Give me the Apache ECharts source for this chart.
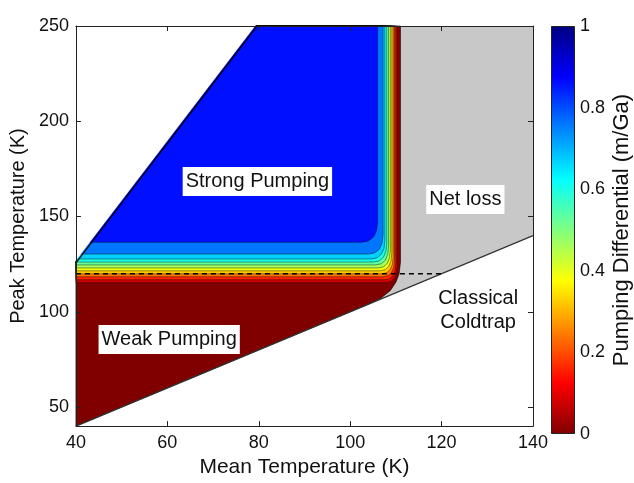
<!DOCTYPE html>
<html>
<head>
<meta charset="utf-8">
<script src="https://cdn.jsdelivr.net/npm/echarts@6/dist/echarts.min.js"></script>
<style>
  html, body { margin: 0; background: #fff; }
  #chart { width: 634px; height: 483px; }
</style>
</head>
<body>
<div id="chart"></div>
<script>
// axis ranges and ticks
const xMin = 40, xMax = 140, xStep = 20
const yMin = 40, yMax = 250
const yTicks = [50, 100, 150, 200, 250]
const cbarStep = 0.2

// domain limits: Tpeak = Tmean (below) and Tpeak = pi * Tmean (above)
const lowerBound = [[40, 40], [140, 140]]
const upperBound = [[40, 125.7], [79.6, 250]]
// classical coldtrap threshold
const coldtrap = [[40, 120], [120, 120]]

// zero contour, edge between pumping and net loss
const zeroContour = [[111.0, 250], [111.0, 126], [110.7, 120], [110.0, 115.5], [108.8, 111.2], [106.8, 107.3], [104.3, 104.3]]

// filled contour levels (m/Ga): horizontal limb (peak T), vertical limb (mean T), and bend size
const levels = [0.08, 0.16, 0.24, 0.32, 0.39, 0.46, 0.53, 0.6, 0.67, 0.76, 0.86]
const levelPeak = [115.3, 116.8, 118.4, 119.9, 121.5, 123.0, 124.6, 126.1, 127.7, 130.3, 136.5]
const levelMean = [110.3, 110.0, 109.7, 109.4, 109.1, 108.8, 108.4, 108.0, 107.6, 107.2, 106.0]
const bendMean = [2.4, 2.4, 2.5, 2.5, 2.6, 2.7, 2.8, 2.9, 3.0, 3.2, 3.6]
const bendPeak = [9.0, 9.0, 9.0, 9.2, 9.4, 9.6, 9.8, 10.0, 10.2, 10.5, 11.0]

// region labels
const noteText = ['Strong Pumping', 'Weak Pumping', 'Net loss', 'Classical\nColdtrap']
const noteMean = [79.7, 60.4, 125.2, 128.0]
const notePeak = [168.4, 85.4, 159.0, 100.9]
const noteBoxed = [true, true, true, false]

// flipped jet colour map, stops at 0, 1/8, ..., 1
const jetStops = ['#800000', '#ff0000', '#ff8000', '#ffff00', '#80ff80', '#00ffff', '#0080ff', '#0000ff', '#000080']

function hex2rgb(h) {
  return [1, 3, 5].map(i => parseInt(h.slice(i, i + 2), 16))
}
function cmap(v) {
  const t = Math.max(0, Math.min(1, v)) * 8
  const i = Math.min(7, Math.floor(t))
  const f = t - i
  const a = hex2rgb(jetStops[i]), b = hex2rgb(jetStops[i + 1])
  const c = a.map((x, k) => Math.round(x + (b[k] - x) * f))
  return 'rgb(' + c.join(',') + ')'
}

const font = '"Liberation Sans", Arial, Helvetica, sans-serif'
const axisColor = '#222'

const chart = echarts.init(document.getElementById('chart'), null, { renderer: 'canvas' })

const polyItem = (pts, fill, stroke) => ({
  type: 'polygon',
  shape: { points: pts },
  style: { fill: fill, stroke: stroke || null, lineWidth: stroke ? 0.8 : 0 }
})

const option = {
  animation: false,
  backgroundColor: '#fff',
  grid: [
    { left: 75, top: 26, width: 458, height: 408 },
    { left: 551, top: 26, width: 24, height: 408 }
  ],
  xAxis: [
    {
      type: 'value', gridIndex: 0, min: xMin, max: xMax, interval: xStep, z: 10,
      name: 'Mean Temperature (K)', nameLocation: 'middle', nameGap: 24,
      nameTextStyle: { fontFamily: font, fontSize: 21, color: '#111' },
      axisLine: { lineStyle: { color: axisColor } },
      axisTick: { inside: true, length: 5, lineStyle: { color: axisColor } },
      axisLabel: { fontFamily: font, fontSize: 18, color: '#111', margin: 8 },
      splitLine: { show: false }
    },
    {
      type: 'value', gridIndex: 0, position: 'top', min: xMin, max: xMax, interval: xStep, z: 10,
      axisLine: { lineStyle: { color: axisColor } },
      axisTick: { inside: true, length: 5, lineStyle: { color: axisColor } },
      axisLabel: { show: false },
      splitLine: { show: false }
    },
    { type: 'category', gridIndex: 1, data: [''], show: false }
  ],
  yAxis: [
    {
      type: 'value', gridIndex: 0, min: yMin, max: yMax, z: 10,
      name: 'Peak Temperature (K)', nameLocation: 'middle', nameRotate: 90, nameGap: 47,
      nameTextStyle: { fontFamily: font, fontSize: 20, color: '#111' },
      axisLine: { show: true, lineStyle: { color: axisColor } },
      axisTick: { show: true, inside: true, length: 5, customValues: yTicks, lineStyle: { color: axisColor } },
      axisLabel: { fontFamily: font, fontSize: 18, color: '#111', margin: 7, customValues: yTicks },
      splitLine: { show: false }
    },
    {
      type: 'value', gridIndex: 0, position: 'right', min: yMin, max: yMax, z: 10,
      axisLine: { show: true, lineStyle: { color: axisColor } },
      axisTick: { show: true, inside: true, length: 5, customValues: yTicks, lineStyle: { color: axisColor } },
      axisLabel: { show: false, customValues: yTicks },
      splitLine: { show: false }
    },
    {
      type: 'value', gridIndex: 1, position: 'right', min: 0, max: 1, interval: cbarStep,
      name: 'Pumping Differential (m/Ga)', nameLocation: 'middle', nameRotate: 90, nameGap: 36,
      nameTextStyle: { fontFamily: font, fontSize: 22, color: '#111' },
      axisLine: { show: false },
      axisTick: { show: false },
      axisLabel: { fontFamily: font, fontSize: 18, color: '#111', margin: 5 },
      splitLine: { show: false }
    }
  ],
  series: [
    // net loss background over the whole domain
    {
      type: 'custom', xAxisIndex: 0, yAxisIndex: 0, z: 1, data: [0],
      renderItem: (params, api) => polyItem([
        api.coord(lowerBound[0]), api.coord(lowerBound[1]),
        api.coord([xMax, yMax]), api.coord([xMin, yMax])
      ], '#c8c8c8')
    },
    // zero band (weak pumping), bounded by the zero contour
    {
      type: 'custom', xAxisIndex: 0, yAxisIndex: 0, z: 2, data: [0],
      renderItem: (params, api) => {
        const pts = [api.coord(lowerBound[0])]
        for (let i = zeroContour.length - 1; i >= 0; i--) pts.push(api.coord(zeroContour[i]))
        pts.push(api.coord([xMin, yMax]))
        return polyItem(pts, cmap(0), 'rgba(0,0,0,0.75)')
      }
    },
    // filled contour bands
    {
      type: 'custom', xAxisIndex: 0, yAxisIndex: 0, z: 3,
      data: levels.map((v, i) => [levelMean[i], levelPeak[i], bendMean[i], bendPeak[i], v]),
      renderItem: (params, api) => {
        const w = api.value(0), h = api.value(1), dx = api.value(2), dy = api.value(3)
        const p0 = api.coord([xMin, yMax]), p1 = api.coord([xMin, h])
        const p2 = api.coord([w - dx, h]), c = api.coord([w, h])
        const p3 = api.coord([w, h + dy]), p4 = api.coord([w, yMax])
        const d = 'M' + p0.join(' ') + 'L' + p1.join(' ') + 'L' + p2.join(' ') +
          'Q' + c.join(' ') + ' ' + p3.join(' ') + 'L' + p4.join(' ') + 'Z'
        return {
          type: 'path',
          shape: { pathData: d },
          style: { fill: cmap(api.value(4)), stroke: 'rgba(0,0,0,0.6)', lineWidth: 0.7 }
        }
      }
    },
    // blank area above Tpeak = pi * Tmean
    {
      type: 'custom', xAxisIndex: 0, yAxisIndex: 0, z: 4, data: [0],
      renderItem: (params, api) => {
        const a = api.coord(upperBound[0]), b = api.coord(upperBound[1]), c = api.coord([xMin, yMax])
        return polyItem([[a[0] - 1, a[1] - 1], [b[0] - 1, b[1] - 1], [c[0] - 1, c[1] - 1]], '#fff')
      }
    },
    {
      type: 'line', xAxisIndex: 0, yAxisIndex: 0, z: 5, data: upperBound, showSymbol: false, silent: true,
      lineStyle: { color: '#000', width: 1.3 }
    },
    {
      type: 'line', xAxisIndex: 0, yAxisIndex: 0, z: 5, data: lowerBound, showSymbol: false, silent: true,
      lineStyle: { color: '#333', width: 1.2 }
    },
    {
      type: 'line', xAxisIndex: 0, yAxisIndex: 0, z: 5, data: coldtrap, showSymbol: false, silent: true,
      lineStyle: { color: '#000', width: 1.6, type: [5, 4] }
    },
    // region labels
    {
      type: 'custom', xAxisIndex: 0, yAxisIndex: 0, z: 6,
      data: noteText.map((t, i) => [noteMean[i], notePeak[i], i]),
      renderItem: (params, api) => {
        const i = api.value(2)
        const p = api.coord([api.value(0), api.value(1)])
        return {
          type: 'text',
          x: p[0], y: p[1],
          style: {
            text: noteText[i], fill: '#111', font: '20px ' + font,
            align: 'center', verticalAlign: 'middle', lineHeight: 24,
            backgroundColor: noteBoxed[i] ? '#fff' : null,
            padding: noteBoxed[i] ? [3, 3, 2, 3] : 0
          }
        }
      }
    },
    // colour bar
    {
      type: 'bar', xAxisIndex: 2, yAxisIndex: 2, data: [1], barWidth: '100%', silent: true,
      itemStyle: {
        borderColor: axisColor, borderWidth: 1,
        color: new echarts.graphic.LinearGradient(0, 1, 0, 0,
          jetStops.map((c, i) => ({ offset: i / (jetStops.length - 1), color: c })))
      }
    }
  ]
}

chart.setOption(option)
</script>
</body>
</html>
